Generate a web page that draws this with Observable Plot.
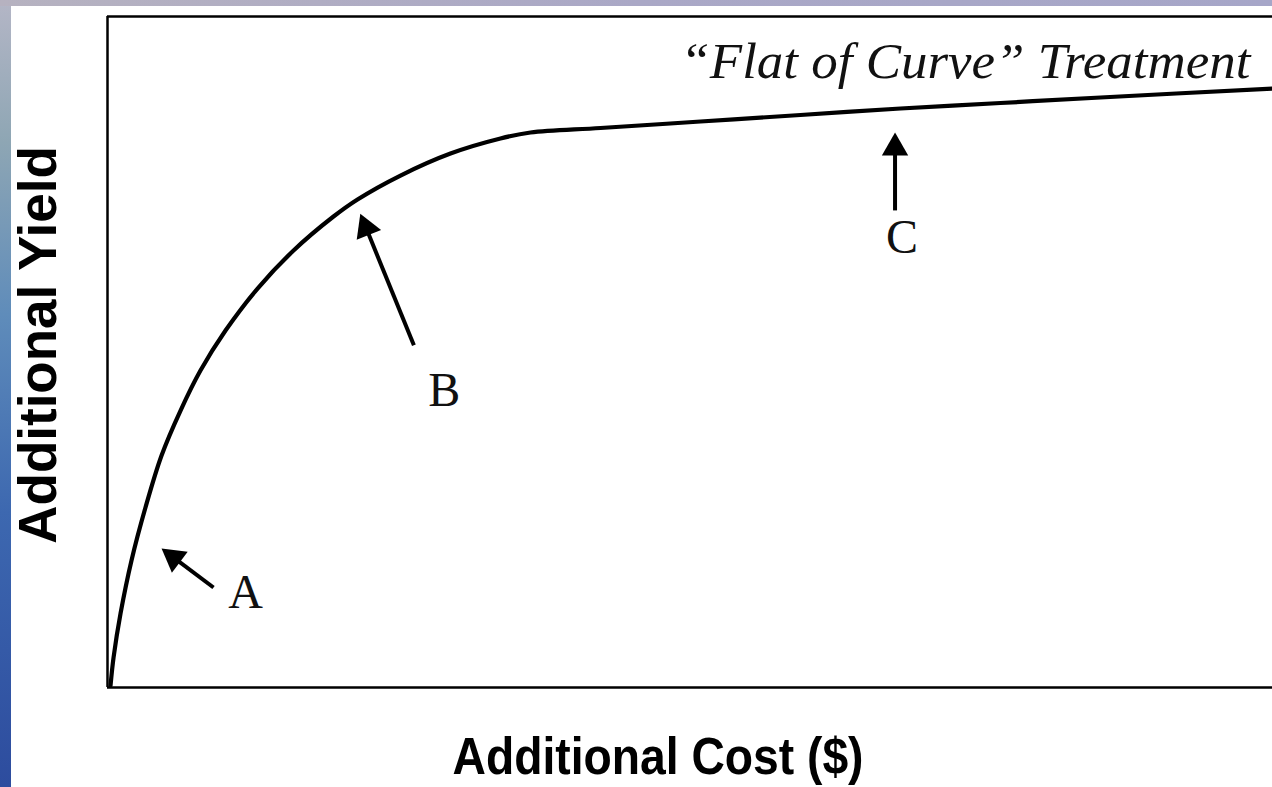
<!DOCTYPE html>
<html>
<head>
<meta charset="utf-8">
<script src="https://cdn.jsdelivr.net/npm/d3@7"></script>
<script src="https://cdn.jsdelivr.net/npm/@observablehq/plot@0.6"></script>
<style>
  html, body { margin: 0; padding: 0; }
  body {
    width: 1272px; height: 787px; overflow: hidden; position: relative;
    background: linear-gradient(to bottom, #b4b6c6 0%, #8ea6b4 18%, #5f8cba 40%, #3d68b0 65%, #2d4c9e 100%);
  }
  #topstrip {
    position: absolute; left: 0; top: 0; width: 1272px; height: 6px;
    background: linear-gradient(to right, #b6b2c0 0%, #aaa8c6 50%, #a6a6c8 100%);
  }
  #chart {
    position: absolute; left: 11px; top: 6px; width: 1261px; height: 781px; background: #fff;
  }
  #chart svg { display: block; }
</style>
</head>
<body>
<div id="topstrip"></div>
<div id="chart"></div>
<script>
// Curve: additional cost (x, 0-100) vs additional yield (y, 0-100)
const costX = [0.26, 0.52, 1.12, 2.06, 3.26, 4.64, 6.27, 7.98, 10.13, 12.88, 15.97, 19.40, 21.46, 25.15, 29.44, 33.73, 36.31, 42.32, 50.90, 59.48, 68.07, 76.65, 85.24, 100];
const yieldY = [0.30, 4.47, 11.03, 18.93, 26.83, 34.58, 41.28, 47.24, 53.20, 59.46, 65.13, 70.19, 72.73, 76.30, 79.58, 81.82, 82.71, 83.38, 84.35, 85.32, 86.29, 87.11, 87.93, 89.27];

// Annotation arrows (tail -> tip)
const arrowTailX = [9.1, 26.3, 67.6];
const arrowTailY = [14.9, 51.0, 71.1];
const arrowTipX = [4.64, 21.7, 67.6];
const arrowTipY = [20.7, 70.6, 82.7];

// Letter labels
const letterText = ["A", "B", "C"];
const letterX = [11.85, 28.9, 68.2];
const letterY = [11.8, 42.0, 64.8];

// Texts
const noteText = ["\u201CFlat of Curve\u201D Treatment"];
const noteX = [98.1];
const noteY = [90.9];
const xLabel = "Additional Cost ($)";
const yLabel = "Additional Yield";

const W = 1261, H = 781;
const mL = 96, mR = 0, mT = 10, mB = 100;
const kx = (W - mL - mR) / 100;
const ky = (H - mT - mB) / 100;

const curve = costX.map((x, i) => ({x, y: yieldY[i]}));

const headHalf = 7.6;            // |y| of the d3 triangle symbol
const headR = Math.sqrt(3 * Math.sqrt(3) * headHalf * headHalf / Math.PI);
const arrows = arrowTailX.map((tx, i) => {
  const px = (arrowTipX[i] - tx) * kx;
  const py = -(arrowTipY[i] - arrowTailY[i]) * ky;
  const len = Math.hypot(px, py);
  const ux = px / len, uy = py / len;
  const back = 2 * headHalf;
  return {
    x1: tx, y1: arrowTailY[i],
    cx: arrowTipX[i] - back * ux / kx,
    cy: arrowTipY[i] + back * uy / ky,
    angle: Math.atan2(ux, -uy) * 180 / Math.PI
  };
});
const letters = letterText.map((t, i) => ({t, x: letterX[i], y: letterY[i]}));
const notes = noteText.map((t, i) => ({t, x: noteX[i], y: noteY[i]}));

const plot = Plot.plot({
  width: W, height: H,
  marginLeft: mL, marginRight: mR, marginTop: mT, marginBottom: mB,
  x: {domain: [0, 100], axis: null},
  y: {domain: [0, 100], axis: null},
  style: {background: "transparent", overflow: "visible"},
  marks: [
    Plot.ruleX([0], {stroke: "#000", strokeWidth: 2.5}),
    Plot.ruleY([0, 100], {stroke: "#000", strokeWidth: 2.5}),
    Plot.line(curve, {x: "x", y: "y", curve: "catmull-rom", stroke: "#000", strokeWidth: 4.2, strokeLinejoin: "round", strokeLinecap: "round"}),
    Plot.link(arrows, {x1: "x1", y1: "y1", x2: "cx", y2: "cy", stroke: "#000", strokeWidth: 4}),
    Plot.dot(arrows, {x: "cx", y: "cy", symbol: "triangle", r: headR, rotate: "angle", fill: "#000", stroke: null}),
    Plot.text(letters, {x: "x", y: "y", text: "t", fontFamily: "Liberation Serif, serif", fontSize: 48, fill: "#111", textAnchor: "middle", lineAnchor: "bottom"}),
    Plot.text(notes, {x: "x", y: "y", text: "t", fontFamily: "Liberation Serif, serif", fontStyle: "italic", fontSize: 50, fill: "#111", textAnchor: "end", lineAnchor: "bottom"}),
    Plot.text([xLabel], {frameAnchor: "bottom", text: d => d, dx: -32, dy: 86, fontFamily: "Liberation Sans, Arial, sans-serif", fontWeight: "bold", fontSize: 52, fill: "#000", textAnchor: "middle", lineAnchor: "bottom"}),
    Plot.text([yLabel], {frameAnchor: "left", text: d => d, dx: -52, dy: -7, rotate: -90, fontFamily: "Liberation Sans, Arial, sans-serif", fontWeight: "bold", fontSize: 53, fill: "#000", textAnchor: "middle", lineAnchor: "bottom"})
  ]
});
document.getElementById("chart").appendChild(plot);

// fit text widths to the reference
d3.select(plot).selectAll("text").each(function() {
  const s = this.textContent;
  if (s === xLabel) { this.setAttribute("textLength", 411); this.setAttribute("lengthAdjust", "spacingAndGlyphs"); }
  if (s === noteText[0]) { this.setAttribute("textLength", 570); this.setAttribute("lengthAdjust", "spacingAndGlyphs"); }
});
</script>
</body>
</html>
